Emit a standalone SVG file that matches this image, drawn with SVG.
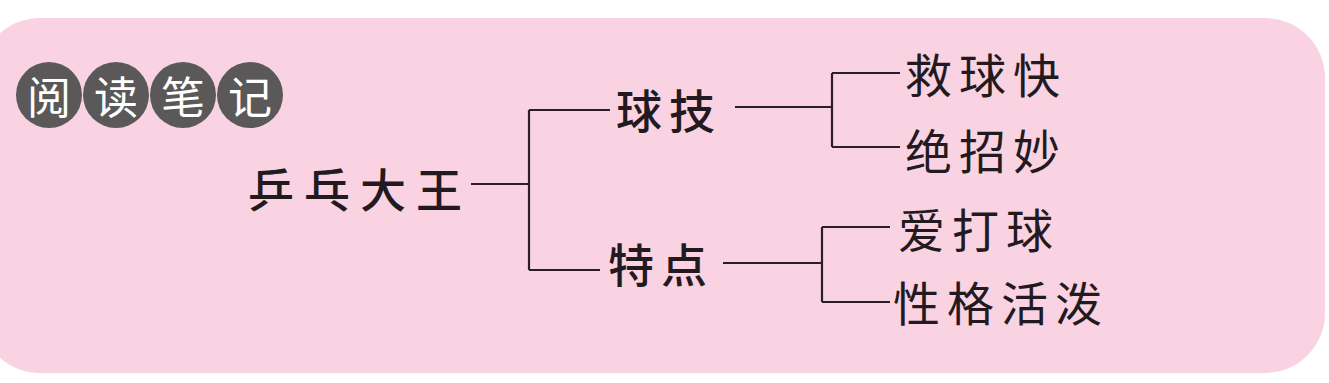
<svg xmlns="http://www.w3.org/2000/svg" width="1329" height="383" viewBox="0 0 1329 383">
<style>
.bg{fill:#f9d3e2}
.badge circle{fill:#5a5859}
.badge text{fill:#ffffff;font-family:"Noto Sans CJK SC",sans-serif;font-size:44px;text-anchor:middle;dominant-baseline:central}
.hei{fill:#231a1f;font-family:"Noto Sans CJK SC",sans-serif;font-size:46px;font-weight:500;dominant-baseline:central}
.kai{fill:#231a1f;font-family:"Noto Sans CJK SC",sans-serif;font-size:47px;font-weight:400;dominant-baseline:central;letter-spacing:7px}
.conn path{fill:none;stroke:#2a1f24;stroke-width:2.2}
</style>
<rect class="bg" x="-20" y="18" width="1345" height="355" rx="60" ry="60"/>
<g id="title" class="badge">
<circle cx="49" cy="95" r="33"/>
<circle cx="116" cy="95" r="33"/>
<circle cx="183" cy="95" r="33"/>
<circle cx="250" cy="95" r="33"/>
<text x="49" y="95">阅</text>
<text x="116" y="95">读</text>
<text x="183" y="95">笔</text>
<text x="250" y="95">记</text>
</g>
<g id="connectors" class="conn">
<path d="M471 184 H529 M529 110 V270 M529 110 H610 M529 270 H600"/>
<path d="M735 107 H832 M832 73 V147 M832 73 H900 M832 147 H900"/>
<path d="M723 263 H822 M822 227 V302 M822 227 H890 M822 302 H890"/>
</g>
<g id="root"><text class="hei" x="248" y="187" letter-spacing="10">乒乓大王</text></g>
<g id="skill"><text class="hei" x="616" y="108" letter-spacing="7">球技</text></g>
<g id="trait"><text class="hei" x="608" y="262" letter-spacing="7">特点</text></g>
<g id="skill-1"><text class="kai" x="905" y="72">救球快</text></g>
<g id="skill-2"><text class="kai" x="905" y="148">绝招妙</text></g>
<g id="trait-1"><text class="kai" x="898" y="227">爱打球</text></g>
<g id="trait-2"><text class="kai" x="893" y="300">性格活泼</text></g>
</svg>
